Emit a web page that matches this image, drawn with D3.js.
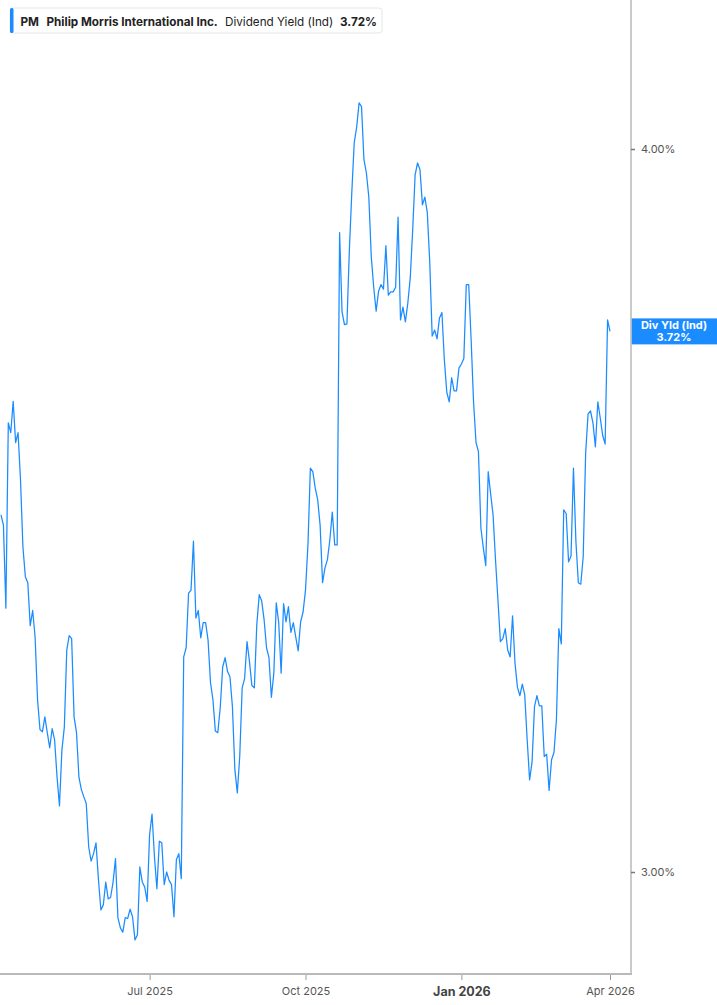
<!DOCTYPE html>
<html lang="en">
<head>
<meta charset="UTF-8">
<title>PM Dividend Yield</title>
<script src="https://d3js.org/d3.v7.min.js"></script>
<style>
  body { margin: 0; background: #fff; font-family: Inter, "Noto Sans", Arial, sans-serif; }
  svg { display: block; }
</style>
</head>
<body>
<div id="chart"></div>
<script>
// trading calendar bounds and market holidays
const firstDay = "2025-04-02";
const lastDay = "2026-04-01";
const marketHolidays = ["2025-04-18", "2025-05-26", "2025-06-19", "2025-07-04", "2025-09-01",
  "2025-11-27", "2025-12-25", "2026-01-01", "2026-01-19", "2026-02-16"];

// daily dividend yield (%)
const divYield = [
  3.458, 3.444, 3.332, 3.587, 3.573, 3.618, 3.559, 3.573, 3.507, 3.414,
  3.374, 3.366, 3.309, 3.329, 3.294, 3.213, 3.175, 3.172, 3.191, 3.171,
  3.152, 3.176, 3.162, 3.116, 3.080, 3.149, 3.178, 3.277, 3.296, 3.292,
  3.191, 3.171, 3.115, 3.100, 3.091, 3.083, 3.030, 3.013, 3.022, 3.035,
  2.991, 2.955, 2.961, 2.988, 2.968, 2.970, 2.988, 3.016, 2.946, 2.934,
  2.929, 2.946, 2.945, 2.956, 2.947, 2.920, 2.926, 3.006, 2.988, 2.982,
  2.965, 3.045, 3.070, 3.018, 2.980, 3.037, 3.035, 2.985, 3.000, 2.990,
  2.985, 2.947, 3.015, 3.022, 2.992, 3.268, 3.280, 3.352, 3.356, 3.422,
  3.319, 3.329, 3.293, 3.313, 3.313, 3.290, 3.235, 3.213, 3.173, 3.171,
  3.203, 3.255, 3.267, 3.249, 3.242, 3.204, 3.125, 3.096, 3.141, 3.228,
  3.240, 3.288, 3.262, 3.231, 3.228, 3.310, 3.350, 3.342, 3.317, 3.280,
  3.267, 3.216, 3.247, 3.339, 3.313, 3.247, 3.338, 3.314, 3.334, 3.300,
  3.313, 3.294, 3.276, 3.314, 3.327, 3.356, 3.417, 3.523, 3.518, 3.495,
  3.479, 3.444, 3.366, 3.386, 3.397, 3.424, 3.462, 3.417, 3.417, 3.869,
  3.749, 3.730, 3.731, 3.842, 3.931, 4.010, 4.035, 4.074, 4.068, 3.983,
  3.962, 3.924, 3.832, 3.786, 3.750, 3.780, 3.790, 3.783, 3.849, 3.774,
  3.779, 3.779, 3.786, 3.893, 3.737, 3.756, 3.734, 3.762, 3.800, 3.873,
  3.959, 3.978, 3.967, 3.912, 3.924, 3.900, 3.824, 3.713, 3.722, 3.709,
  3.740, 3.748, 3.678, 3.631, 3.617, 3.652, 3.633, 3.633, 3.666, 3.672,
  3.680, 3.790, 3.790, 3.707, 3.616, 3.559, 3.546, 3.440, 3.413, 3.389,
  3.518, 3.487, 3.458, 3.397, 3.343, 3.288, 3.292, 3.305, 3.277, 3.268,
  3.322, 3.260, 3.229, 3.218, 3.233, 3.219, 3.162, 3.112, 3.134, 3.204,
  3.218, 3.205, 3.205, 3.141, 3.144, 3.099, 3.137, 3.146, 3.187, 3.305,
  3.285, 3.465, 3.460, 3.394, 3.402, 3.523, 3.422, 3.366, 3.364, 3.401,
  3.544, 3.600, 3.604, 3.587, 3.553, 3.617, 3.594, 3.569, 3.557, 3.737,
  3.720
];

const xTickDates = ["2025-07-01", "2025-10-01", "2026-01-02", "2026-04-01"];
const xTickLabels = ["Jul 2025", "Oct 2025", "Jan 2026", "Apr 2026"];
const yTickValues = [3, 4];

const ticker = "PM";
const company = "Philip Morris International Inc.";
const metric = "Dividend Yield (Ind)";
const endTag = "Div Yld (Ind)";

const width = 717, height = 1005;
const plotRight = 631, plotBottom = 974;
const blue = "#1a8cff";

// build the trading-day list
const fmt = d3.utcFormat("%Y-%m-%d");
const parse = d3.utcParse("%Y-%m-%d");
const tradingDays = d3.utcDay.range(parse(firstDay), d3.utcDay.offset(parse(lastDay), 1))
  .filter(d => d.getUTCDay() !== 0 && d.getUTCDay() !== 6)
  .map(fmt)
  .filter(d => !marketHolidays.includes(d));

const n = Math.min(tradingDays.length, divYield.length);
const data = d3.range(n).map(i => ({ date: tradingDays[i], i: i, v: divYield[i] }));

const svg = d3.select("#chart").append("svg")
  .attr("width", width)
  .attr("height", height)
  .attr("viewBox", [0, 0, width, height]);

// x is a trading-day index scale, y is logarithmic
const x = d3.scaleLinear().domain([0, n - 1]).range([1, 610]);
const y = d3.scaleLog().domain([3, 4]).range([872, 149]);

// axes frame
svg.append("line")
  .attr("x1", plotRight).attr("x2", plotRight)
  .attr("y1", 0).attr("y2", plotBottom + 1)
  .attr("stroke", "#b9b9b9").attr("stroke-width", 1.5);
svg.append("line")
  .attr("x1", 0).attr("x2", plotRight + 0.75)
  .attr("y1", plotBottom).attr("y2", plotBottom)
  .attr("stroke", "#b9b9b9").attr("stroke-width", 2);

// x axis
const xAxis = d3.axisBottom(x)
  .tickValues(xTickDates.map(d => d3.bisectLeft(tradingDays, d)))
  .tickFormat((d, i) => xTickLabels[i])
  .tickSize(5)
  .tickPadding(7);

const gx = svg.append("g")
  .attr("transform", `translate(0,${plotBottom + 1})`)
  .call(xAxis);
gx.select(".domain").remove();
gx.selectAll(".tick line").attr("stroke", "#9a9a9a");
gx.selectAll(".tick text")
  .style("font-family", "Inter, 'Noto Sans', sans-serif")
  .style("font-weight", (d, i) => xTickLabels[i] === "Jan 2026" ? 700 : 400)
  .style("font-size", (d, i) => xTickLabels[i] === "Jan 2026" ? "12.5px" : "11px")
  .attr("fill", (d, i) => xTickLabels[i] === "Jan 2026" ? "#444" : "#555");

// y axis on the right
const yAxis = d3.axisRight(y)
  .tickValues(yTickValues)
  .tickFormat(d => d.toFixed(2) + "%")
  .tickSize(4)
  .tickPadding(6);

const gy = svg.append("g")
  .attr("transform", `translate(${plotRight},0)`)
  .call(yAxis);
gy.select(".domain").remove();
gy.selectAll(".tick line").attr("stroke", "#777").attr("stroke-width", 1.5);
gy.selectAll(".tick text")
  .attr("fill", "#555")
  .style("font-family", "Inter, 'Noto Sans', sans-serif")
  .style("font-size", "11px");

// the series
const line = d3.line()
  .x(d => x(d.i))
  .y(d => y(d.v));

svg.append("path")
  .datum(data)
  .attr("d", line)
  .attr("fill", "none")
  .attr("stroke", blue)
  .attr("stroke-width", 1.25)
  .attr("stroke-linejoin", "round");

// end value tag
const last = data[data.length - 1];
const tagY = y(last.v);
svg.append("rect")
  .attr("x", plotRight + 0.75)
  .attr("y", tagY - 13)
  .attr("width", width - plotRight)
  .attr("height", 26)
  .attr("fill", blue);
const tag = svg.append("text")
  .attr("x", 674)
  .attr("text-anchor", "middle")
  .attr("fill", "#fff")
  .style("font-family", "Inter, 'Noto Sans', sans-serif")
  .style("font-size", "11px")
  .style("font-weight", 700);
tag.append("tspan").attr("x", 674).attr("y", tagY - 2).text(endTag);
tag.append("tspan").attr("x", 674).attr("y", tagY + 10).text(last.v.toFixed(2) + "%");

// legend
const legend = svg.append("g").attr("transform", "translate(10,8)");
legend.append("rect")
  .attr("x", 0).attr("y", 0)
  .attr("width", 372).attr("height", 25)
  .attr("rx", 3)
  .attr("fill", "#fff")
  .attr("stroke", "#e6e6e6");
legend.append("rect")
  .attr("x", 0).attr("y", 0)
  .attr("width", 3.5).attr("height", 25)
  .attr("rx", 1.5)
  .attr("fill", blue);

const lt = legend.append("text")
  .attr("y", 17.5)
  .attr("fill", "#222")
  .style("font-family", "Inter, 'Noto Sans', sans-serif")
  .style("font-size", "11.7px");
lt.append("tspan").attr("x", 10.5).style("font-weight", 700).text(ticker);
lt.append("tspan").attr("x", 36.5).style("font-weight", 700).text(company);
lt.append("tspan").attr("x", 215).style("font-weight", 400).text(metric);
lt.append("tspan").attr("x", 330).style("font-weight", 700).text(last.v.toFixed(2) + "%");
</script>
</body>
</html>
